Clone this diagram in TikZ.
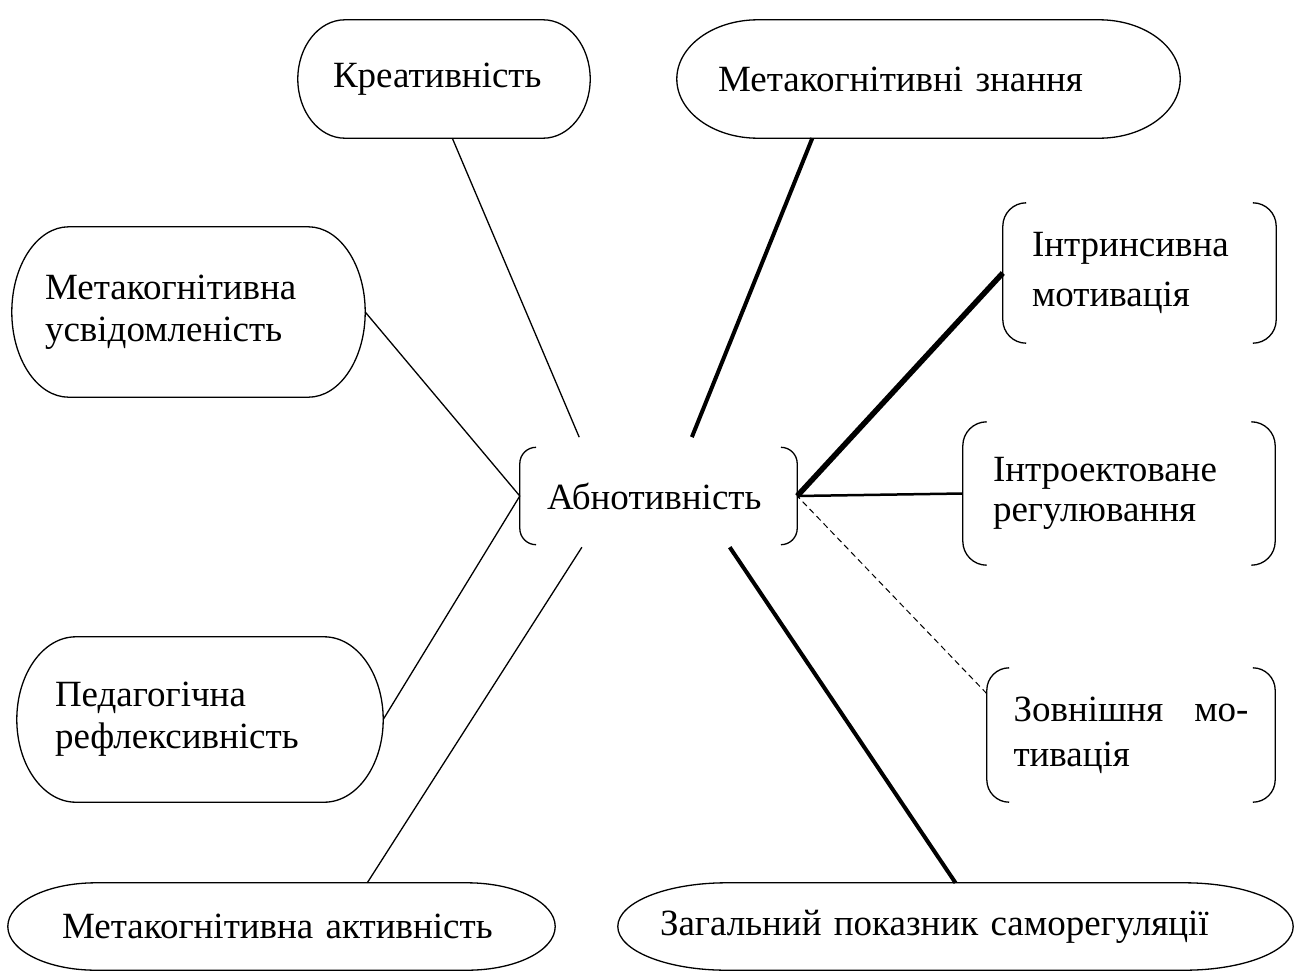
\documentclass[tikz,border=0pt]{standalone}
\usepackage{fontspec}
\setmainfont{Liberation Serif}
\usepackage{tikz}
\usetikzlibrary{calc}
\hyphenpenalty=10000
\exhyphenpenalty=10000

\begin{document}
\begin{tikzpicture}[x=1pt,y=-1pt]
\tikzset{
 box/.style={inner ysep=0pt,align=left,font=\fontsize{37}{42}\selectfont},
 outline/.style={draw=black,line width=1.3pt},
 link/.style={draw=black,line width=1.3pt},
 thicklink/.style={draw=black,line width=4pt},
 heavylink/.style={draw=black,line width=5.5pt},
 midlink/.style={draw=black,line width=2.5pt},
 weaklink/.style={draw=black,line width=1pt,dash pattern=on 6pt off 4pt}
}
\useasboundingbox (0,0) rectangle (1296,972);
% oval boxes
\node[box,minimum width=292pt,minimum height=118pt,inner xsep=35pt,text width=222pt] (krea) at (444,79) {Креативність};
\node[box,minimum width=503pt,minimum height=118pt,inner xsep=41pt,text width=421pt] (mzn) at (928.5,79) {Метакогнітивні~знання};
\node[box,minimum width=353pt,minimum height=170pt,inner xsep=33pt,text width=287pt] (musv) at (188.5,312) {Метакогнітивна\\усвідомленість};
\node[box,minimum width=366pt,minimum height=165pt,inner xsep=38pt,text width=290pt] (pedr) at (200,719.5) {Педагогічна\\рефлексивність};
\node[box,minimum width=547pt,minimum height=87pt,inner xsep=54pt,text width=439pt] (makt) at (281.5,926.5) {Метакогнітивна~активність};
\node[box,minimum width=675pt,minimum height=87pt,inner xsep=42pt,text width=591pt] (zag) at (955.5,926.5) {Загальний~показник~саморегуляції};
% bracket boxes
\node[box,minimum width=277pt,minimum height=97pt,inner xsep=27pt,text width=223pt] (abno) at (658.5,496) {Абнотивність};
\node[box,minimum width=273pt,minimum height=140pt,inner xsep=29pt,text width=215pt,font=\fontsize{37}{50}\selectfont] (intr) at (1139.5,273) {Інтринсивна\\мотивація};
\node[box,minimum width=312pt,minimum height=143pt,inner xsep=30pt,text width=252pt,font=\fontsize{37}{40}\selectfont] (introe) at (1119,493.5) {Інтроектоване\\регулювання};
\node[box,minimum width=288pt,minimum height=134pt,inner xsep=26.5pt,text width=235pt,font=\fontsize{37}{45}\selectfont] (zovn) at (1131,735) {Зовнішня\hfill мо-\\тивація};

\foreach \b in {krea,mzn,musv,pedr,makt,zag}
 \draw[outline] let \p1=(\b.south west), \p2=(\b.north east), \n1={0.161*(\x2-\x1)}, \n2={0.5*(\y2-\y1)} in
 (\x1+\n1,\y1) -- (\x2-\n1,\y1) arc[start angle=-90,end angle=90,x radius=\n1*1pt,y radius=\n2*1pt]
 -- (\x1+\n1,\y2) arc[start angle=90,end angle=270,x radius=\n1*1pt,y radius=\n2*1pt] -- cycle;
\foreach \b in {abno,intr,introe,zovn}
 \draw[outline] let \p1=(\b.south west), \p2=(\b.north east), \n1={0.1667*(\y2-\y1)} in
 (\x1+\n1,\y2) arc[start angle=90,end angle=180,radius=\n1*1pt] -- (\x1,\y1+\n1) arc[start angle=180,end angle=270,radius=\n1*1pt]
 (\x2-\n1,\y2) arc[start angle=90,end angle=0,radius=\n1*1pt] -- (\x2,\y1+\n1) arc[start angle=0,end angle=-90,radius=\n1*1pt];

% links to the centre
\draw[link,shorten >=11pt] (krea.-82) -- (abno.147);
\draw[thicklink,shorten >=11pt] (mzn.-153) -- (abno.59);
\draw[link] (musv.east) -- (abno.west);
\draw[link] (pedr.east) -- (abno.west);
\draw[link,shorten >=3pt] (makt.27) -- (abno.-147);
\draw[thicklink,shorten >=3pt] (zag.north) -- (abno.-35);
\draw[heavylink] (intr.west) -- (abno.east);
\draw[midlink] (introe.west) -- (abno.east);
\draw[weaklink] (zovn.164) -- (abno.east);
\end{tikzpicture}
\end{document}
